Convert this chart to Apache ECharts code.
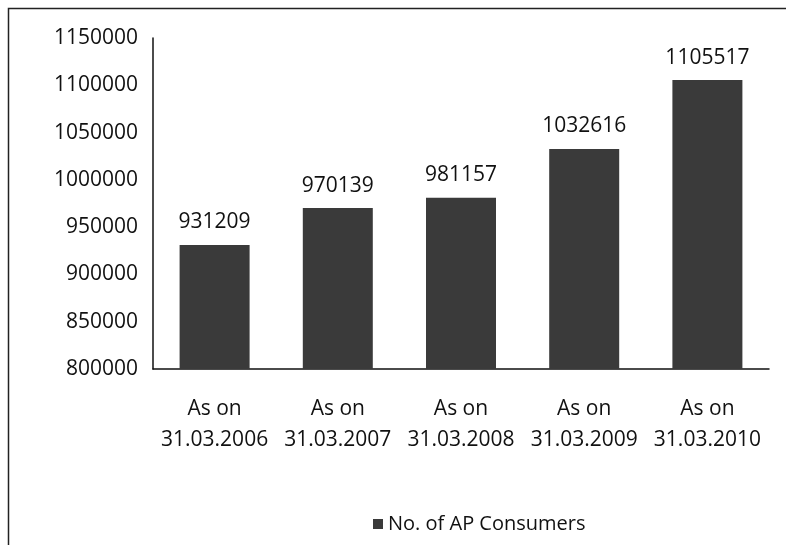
<!DOCTYPE html>
<html>
<head>
<meta charset="utf-8">
<script src="https://cdn.jsdelivr.net/npm/echarts@6/dist/echarts.min.js"></script>
<style>
  html, body { margin: 0; padding: 0; background: #fff; }
  #chart { width: 786px; height: 545px; }
</style>
</head>
<body>
<div id="chart"></div>
<script>
// 图表数据
var categories = ['As on\n31.03.2006', 'As on\n31.03.2007', 'As on\n31.03.2008', 'As on\n31.03.2009', 'As on\n31.03.2010']
var consumers = [931209, 970139, 981157, 1032616, 1105517]
var seriesName = 'No. of AP Consumers'
var yMin = 800000
var yMax = 1150000
var yStep = 50000

var font = 'Open Sans'
var chart = echarts.init(document.getElementById('chart'))

chart.setOption({
  animation: false,
  color: ['#3a3a3a'],
  grid: { left: 153, right: 17, top: 38, bottom: 176 },
  graphic: [
    {
      type: 'rect',
      shape: { x: 8.5, y: 8.5, width: 900, height: 700 },
      style: { fill: 'none', stroke: '#222', lineWidth: 1.5 },
      silent: true
    }
  ],
  legend: {
    data: [seriesName],
    bottom: 6,
    left: 368,
    icon: 'rect',
    itemWidth: 10,
    itemHeight: 10,
    itemGap: 6,
    textStyle: { fontFamily: font, fontSize: 20, color: '#111' }
  },
  xAxis: {
    type: 'category',
    data: categories,
    axisLine: { lineStyle: { color: '#111', width: 1.5 } },
    axisTick: { show: false },
    axisLabel: {
      fontFamily: font,
      fontSize: 21,
      color: '#111',
      lineHeight: 31,
      margin: 25,
      interval: 0
    }
  },
  yAxis: {
    type: 'value',
    min: yMin,
    max: yMax,
    interval: yStep,
    splitLine: { show: false },
    axisLine: { show: true, lineStyle: { color: '#111', width: 1.5 } },
    axisTick: { show: false },
    axisLabel: {
      fontFamily: font,
      fontSize: 21,
      color: '#111',
      margin: 15,
      formatter: function (v) {
        return String(v)
      }
    }
  },
  series: [
    {
      name: seriesName,
      type: 'bar',
      barWidth: 70,
      data: consumers,
      label: {
        show: true,
        position: 'top',
        distance: 12,
        fontFamily: font,
        fontSize: 21,
        color: '#111'
      }
    }
  ]
})
</script>
</body>
</html>
